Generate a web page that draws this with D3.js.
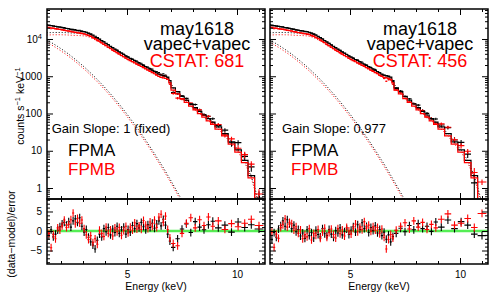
<!DOCTYPE html>
<html>
<head>
<meta charset="utf-8">
<script src="https://cdn.jsdelivr.net/npm/d3@7"></script>
<style>
body { margin:0; background:#fff; }
text { font-family:"Liberation Sans", Arial, Helvetica, sans-serif; }
</style>
</head>
<body>
<div id="chart-area"></div>
<script>
// energy bin edges (keV), same grid for FPMA and FPMB
var binEdges = [1.3,1.4,1.5,1.6,1.7,1.8,1.9,2.0,2.1,2.2,2.3,2.4,2.5,2.6,2.7,2.8,2.9,3.0,
  3.1,3.2,3.3,3.4,3.5,3.6,3.7,3.8,3.9,4.0,4.1,4.2,4.3,4.4,4.5,4.6,4.7,4.8,4.9,5.0,
  5.1,5.2,5.3,5.4,5.5,5.6,5.7,5.8,5.9,6.0,6.1,6.2,6.3,6.4,6.5,6.6,6.7,6.8,6.9,7.0,
  7.2,7.4,7.6,7.8,8.0,8.2,8.4,8.6,8.8,9.0,9.3,9.6,9.9,10.2,10.5,10.8,11.2];

// model components, FPMA (counts s-1 keV-1)
var hotComp = [14660,14730,14840,14940,14930,14950,14960,14900,14870,14770,14670,14510,14410,14340,14250,14150,14020,
  13880,13560,13060,12430,11670,10890,10100,9290,8505,7787,
  7146,6573,6046,5560,5113,4712,4353,4020,3712,3427,
  3178,2961,2757,2567,2390,2224,2070,1927,1792,1667,
  1547,1435,1332,1232,1138,1068,1031,1009,942,757,
  489,385,288,229,182,143,114,91,73,59,
  43.6,28.8,17.4,10.5,5.5,2.14,0.40];
var coolComp = [9330,8710,8070,7450,6850,6280,5740,5240,4760,4330,3910,3520,3170,2840,2540,2260,2010,
  1790,1580,1390,1220,1070,938,817,710,615,531,
  457,393,337,288,245,208,176,149,125,105,
  88,73,61,51,42,35,28.6,23.4,19.2,15.7,
  12.7,10.3,8.4,6.7,5.4,4.4,3.5,2.8,2.2,1.75,
  1.23,0.76,0.47,0.28,0.17,0.10,0.06,0.035,0.02,0.012,
  0.006,0.003,0.0015,0.0007,0.0003,0.00015,0.00006];
var fpmbNorm = 0.87;

// fractional 1-sigma error per bin
var relErr = [0.012,0.012,0.012,0.012,0.012,0.012,0.012,0.012,0.012,0.012,0.012,0.012,0.012,0.012,0.012,0.012,0.012,
  0.015,0.015,0.015,0.015,0.015,0.015,0.015,0.015,0.015,0.015,
  0.02,0.02,0.02,0.02,0.02,0.02,0.02,0.02,0.02,0.02,
  0.03,0.03,0.03,0.03,0.03,0.03,0.03,0.03,0.03,0.03,
  0.04,0.04,0.04,0.04,0.04,0.04,0.04,0.04,0.04,0.04,
  0.06,0.06,0.06,0.06,0.06,0.09,0.09,0.09,0.09,0.09,
  0.13,0.16,0.2,0.25,0.32,0.45,0.7];

// (data-model)/error, gain slope fixed
var residA_fixed = [-0.5,-1.2,0.3,-1.5,-0.8,0.2,1.1,1.8,2.2,1.5,2.4,1.0,2.6,3.1,2.2,3.4,1.2,
  -0.3,0.4,-1.6,-2.8,-3.6,-4.6,-2.4,-0.8,-1.5,0.6,
  -0.2,0.9,-1.0,0.5,-0.4,1.2,-0.6,0.3,1.0,-0.8,
  0.4,-0.3,1.4,0.6,1.9,0.8,2.2,1.1,0.3,1.6,
  0.9,2.0,0.7,1.8,2.6,1.3,3.0,1.5,-0.8,-2.6,
  -4.2,-2.0,0.5,1.8,-0.4,2.4,1.0,0.3,1.6,2.5,
  0.8,1.5,-0.3,2.3,0.9,1.6,0.5];
var residB_fixed = [-1.8,-0.6,-4.3,-0.9,-2.0,0.8,0.2,1.3,2.8,0.9,1.7,2.9,4.6,1.8,3.2,2.0,2.8,
  0.6,-1.0,-2.2,-1.2,-3.0,-2.0,-3.4,0.2,-0.6,-1.4,
  1.0,-0.6,0.3,-1.3,0.8,-0.2,0.9,-1.1,0.1,1.2,
  -0.5,1.0,0.2,2.1,0.5,1.3,0.4,2.7,1.5,0.6,
  2.3,1.1,2.8,0.9,3.6,4.3,2.2,3.8,0.4,-1.8,
  -3.2,-3.8,-0.6,2.0,3.4,0.8,2.9,1.4,3.6,1.2,
  2.6,0.4,1.9,1.1,2.0,3.0,1.4];
// gain slope fitted
var residA_fit = [-0.8,-2.2,-0.4,-1.6,0.5,1.4,2.6,1.2,2.9,1.8,0.6,1.5,-0.2,0.4,-1.3,-0.5,-1.9,
  0.3,-1.2,-0.4,-1.8,0.2,-0.9,-1.5,0.6,-0.7,-1.2,
  0.4,-0.8,-1.6,0.1,-0.5,0.8,-1.0,-0.2,0.5,-0.9,
  0.2,1.1,-0.3,1.6,0.4,2.1,0.6,1.2,-0.4,0.9,
  0.1,1.3,-0.5,0.4,-1.2,-0.3,-2.1,-1.0,-2.8,-1.4,
  -0.6,0.7,-0.2,1.4,0.3,1.9,0.6,1.2,-0.1,2.3,
  1.0,2.8,0.6,2.4,1.5,-0.8,-1.2];
var residB_fit = [-1.2,-0.3,-4.2,-0.8,-1.9,0.9,1.6,3.1,1.0,2.2,1.9,0.2,1.1,-0.6,0.3,-2.0,-0.9,
  -1.5,0.6,-2.3,-0.6,-1.1,0.4,-1.9,-0.3,0.7,-1.6,
  -0.4,0.5,-0.9,-1.8,0.6,-0.7,0.3,-1.3,0.9,0.0,
  -0.8,0.7,1.8,-0.2,1.0,0.3,2.4,0.8,1.5,-0.1,
  1.1,0.2,0.9,-0.7,0.5,-1.6,-4.6,-2.2,-0.9,-1.8,
  0.2,1.2,2.1,0.5,2.6,1.0,2.2,0.4,1.7,0.8,
  3.0,4.4,1.5,2.0,3.2,0.9,4.5];

var titleLines = ["may1618", "vapec+vapec"];
var cstatValues = [681, 456];
var gainLabels = ["Gain Slope: 1 (fixed)", "Gain Slope: 0,977"];
var detectors = ["FPMA", "FPMB"];
var detColors = ["#000000", "#ff0000"];
var countTicks = [1, 10, 100, 1000, 10000];
var residTicks = [-5, 0, 5];
var energyTicks = [5, 10];

var panelLefts = [47, 270];
var panelWidth = 218;
var topY = 9, splitY = 199, bottomY = 264;

var svg = d3.select("#chart-area")
        .append("svg")
                .attr("width", 498)
                .attr("height", 297);
var defs = svg.append("defs");

var bins = binEdges.slice(0, -1).map(function(e, i) {
        return { lo: e, hi: binEdges[i + 1], mid: (e + binEdges[i + 1]) / 2,
                 hot: hotComp[i], cool: coolComp[i], err: relErr[i] };
});

var panels = [
        { res: [residA_fixed, residB_fixed], cstat: cstatValues[0], gain: gainLabels[0] },
        { res: [residA_fit, residB_fit], cstat: cstatValues[1], gain: gainLabels[1] }
];

function styleAxis(g) {
        g.select(".domain").remove();
        g.attr("font-family", "Liberation Sans, Arial, sans-serif").attr("font-size", 10);
        g.selectAll(".tick line").attr("stroke-width", 1);
}

panels.forEach(function(p, k) {
        var left = panelLefts[k], right = left + panelWidth;

        var x = d3.scaleLinear().domain([1.3636, 1.3636 + panelWidth / 22]).range([left, right]);
        var y = d3.scaleLog().domain([0.507, 63800]).range([splitY, topY]);
        var r = d3.scaleLinear().domain([-8.46, 8.2]).range([bottomY, splitY]);

        defs.append("clipPath").attr("id", "clipTop" + k)
                .append("rect").attr("x", left).attr("y", topY)
                .attr("width", panelWidth).attr("height", splitY - topY);
        defs.append("clipPath").attr("id", "clipRes" + k)
                .append("rect").attr("x", left).attr("y", splitY)
                .attr("width", panelWidth).attr("height", bottomY - splitY);

        var gTop = svg.append("g").attr("clip-path", "url(#clipTop" + k + ")");
        var gRes = svg.append("g").attr("clip-path", "url(#clipRes" + k + ")");

        // dotted model components
        [0, 1].forEach(function(d) {
                var norm = d === 0 ? 1 : fpmbNorm;
                ["hot", "cool"].forEach(function(c) {
                        gTop.append("path")
                                .attr("d", d3.line().x(b => x(b.mid)).y(b => y(b[c] * norm))(bins))
                                .attr("fill", "none")
                                .attr("stroke", detColors[d])
                                .attr("stroke-width", 1)
                                .attr("stroke-dasharray", "1,2");
                });
        });

        // zero line of the residuals
        gRes.append("line")
                .attr("x1", left).attr("x2", right)
                .attr("y1", r(0)).attr("y2", r(0))
                .attr("stroke", "#55ee55")
                .attr("stroke-width", 2.5);

        // data crosses, spectrum and residuals
        [0, 1].forEach(function(d) {
                var norm = d === 0 ? 1 : fpmbNorm;
                var res = p.res[d];
                gTop.selectAll(".data" + d)
                        .data(bins)
                        .enter()
                        .append("path")
                        .attr("d", function(b, i) {
                                var m = (b.hot + b.cool) * norm;
                                var val = m * (1 + res[i] * b.err);
                                var e = m * b.err;
                                var lo = Math.max(val - e, 1e-3);
                                return "M" + x(b.lo) + "," + y(val) + "H" + x(b.hi) +
                                        "M" + x(b.mid) + "," + y(val + e) + "V" + y(lo);
                        })
                        .attr("stroke", detColors[d])
                        .attr("stroke-width", 1.1)
                        .attr("fill", "none");

                gRes.selectAll(".res" + d)
                        .data(bins)
                        .enter()
                        .append("path")
                        .attr("d", function(b, i) {
                                return "M" + x(b.lo) + "," + r(res[i]) + "H" + x(b.hi) +
                                        "M" + x(b.mid) + "," + r(res[i] + 1) + "V" + r(res[i] - 1);
                        })
                        .attr("stroke", detColors[d])
                        .attr("stroke-width", 1.1)
                        .attr("fill", "none");
        });

        // model histograms
        [0, 1].forEach(function(d) {
                var norm = d === 0 ? 1 : fpmbNorm;
                var pts = [];
                bins.forEach(function(b) {
                        var m = (b.hot + b.cool) * norm;
                        pts.push([b.lo, m]);
                        pts.push([b.hi, m]);
                });
                gTop.append("path")
                        .attr("d", d3.line().x(q => x(q[0])).y(q => y(q[1]))(pts))
                        .attr("fill", "none")
                        .attr("stroke", detColors[d])
                        .attr("stroke-width", 1.2);
        });

        // ticks, all pointing inwards
        var minorE = d3.range(2, 12).filter(v => v % 5 !== 0);
        var minorC = y.ticks().filter(v => countTicks.indexOf(v) < 0);
        var minorR = d3.range(-8, 9).filter(v => v % 5 !== 0);

        [[topY, d3.axisTop], [splitY, d3.axisBottom], [splitY, d3.axisTop]].forEach(function(a) {
                svg.append("g").attr("transform", "translate(0," + a[0] + ")")
                        .call(a[1](x).tickValues(energyTicks).tickSize(-6).tickFormat(""))
                        .call(styleAxis);
                svg.append("g").attr("transform", "translate(0," + a[0] + ")")
                        .call(a[1](x).tickValues(minorE).tickSize(-3).tickFormat(""))
                        .call(styleAxis);
        });
        svg.append("g").attr("transform", "translate(0," + bottomY + ")")
                .call(d3.axisBottom(x).tickValues(energyTicks).tickSize(-6).tickPadding(6.5))
                .call(styleAxis);
        svg.append("g").attr("transform", "translate(0," + bottomY + ")")
                .call(d3.axisBottom(x).tickValues(minorE).tickSize(-3).tickFormat(""))
                .call(styleAxis);

        [left, right].forEach(function(xx, j) {
                var mk = j === 0 ? d3.axisLeft : d3.axisRight;
                var showLab = (j === 0 && k === 0);
                var cAx = mk(y).tickValues(countTicks).tickSize(-6).tickPadding(5);
                if (!showLab) cAx.tickFormat("");
                else cAx.tickFormat(v => v === 10000 ? "10" : String(v));
                var gc = svg.append("g").attr("transform", "translate(" + xx + ",0)")
                        .call(cAx).call(styleAxis);
                if (showLab) {
                        gc.selectAll(".tick text").filter(v => v === 10000)
                                .append("tspan").attr("dy", "-0.45em").attr("font-size", "7.5px").text("4");
                }
                svg.append("g").attr("transform", "translate(" + xx + ",0)")
                        .call(mk(y).tickValues(minorC).tickSize(-3).tickFormat(""))
                        .call(styleAxis);

                var rAx = mk(r).tickValues(residTicks).tickSize(-6).tickPadding(5);
                if (!showLab) rAx.tickFormat("");
                else rAx.tickFormat(v => v < 0 ? "\u2212" + Math.abs(v) : String(v));
                svg.append("g").attr("transform", "translate(" + xx + ",0)")
                        .call(rAx).call(styleAxis);
                svg.append("g").attr("transform", "translate(" + xx + ",0)")
                        .call(mk(r).tickValues(minorR).tickSize(-3).tickFormat(""))
                        .call(styleAxis);
        });

        // frames
        svg.append("rect")
                .attr("x", left).attr("y", topY)
                .attr("width", panelWidth).attr("height", splitY - topY)
                .attr("fill", "none").attr("stroke", "#000").attr("stroke-width", 1.5);
        svg.append("rect")
                .attr("x", left).attr("y", splitY)
                .attr("width", panelWidth).attr("height", bottomY - splitY)
                .attr("fill", "none").attr("stroke", "#000").attr("stroke-width", 1.5);

        // panel texts
        var cx = right - 68;
        var title = svg.append("text").attr("text-anchor", "middle").attr("font-size", "18px");
        title.append("tspan").attr("x", cx).attr("y", 34.5).text(titleLines[0]);
        title.append("tspan").attr("x", cx).attr("y", 49.5).text(titleLines[1]);
        title.append("tspan").attr("x", cx).attr("y", 66.5).attr("fill", "#ff0000").text("CSTAT: " + p.cstat);

        svg.append("text").attr("x", left + 64).attr("y", 133).attr("text-anchor", "middle")
                .attr("font-size", "13px").text(p.gain);

        var det = svg.append("text").attr("font-size", "17px");
        det.append("tspan").attr("x", left + 21).attr("y", 156).attr("fill", detColors[0]).text(detectors[0]);
        det.append("tspan").attr("x", left + 21).attr("y", 175).attr("fill", detColors[1]).text(detectors[1]);

        svg.append("text")
                .attr("x", (left + right) / 2).attr("y", 290)
                .attr("text-anchor", "middle")
                .attr("font-size", "10.5px")
                .text("Energy (keV)");
});

// y axis titles
var yl = svg.append("text")
        .attr("transform", "translate(24,106) rotate(-90)")
        .attr("text-anchor", "middle")
        .attr("font-size", "10.5px");
yl.append("tspan").text("counts s");
yl.append("tspan").attr("dy", -4).attr("font-size", "7.5px").text("\u22121");
yl.append("tspan").attr("dy", 4).text(" keV");
yl.append("tspan").attr("dy", -4).attr("font-size", "7.5px").text("\u22121");

svg.append("text")
        .attr("transform", "translate(15,234) rotate(-90)")
        .attr("text-anchor", "middle")
        .attr("font-size", "10.5px")
        .text("(data\u2212model)/error");
</script>
</body>
</html>
